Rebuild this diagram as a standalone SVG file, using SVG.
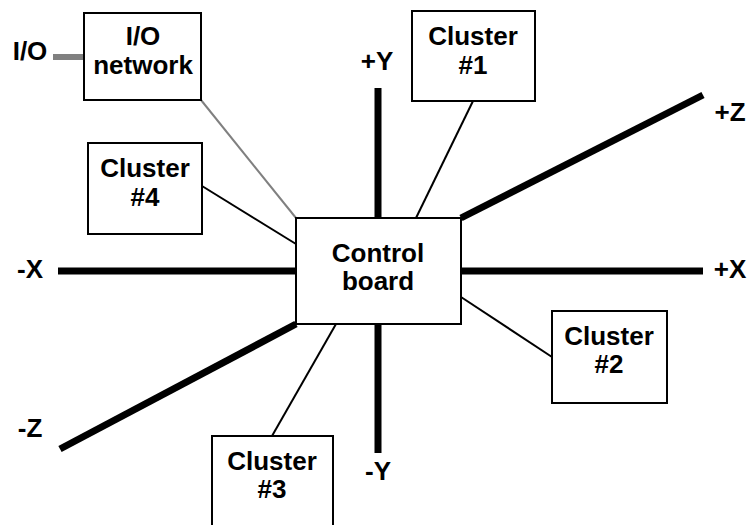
<svg xmlns="http://www.w3.org/2000/svg" width="747" height="525" viewBox="0 0 747 525">
  <style>
    text { font-family: "Liberation Sans", Arial, sans-serif; font-weight: bold; font-size: 26px; fill: #000; text-anchor: middle; }
    .box { fill: #fff; stroke: #000; stroke-width: 2; }
    .axis { stroke: #000; stroke-width: 7; fill: none; }
    .link { stroke: #000; stroke-width: 2; fill: none; }
    .io { stroke: #808080; fill: none; }
  </style>
  <rect width="747" height="525" fill="#fff"/>

  <!-- axes and links -->
  <g id="connectors">
    <line class="axis" x1="58" y1="271" x2="296" y2="271"/>
    <line class="axis" x1="461" y1="271" x2="703" y2="271"/>
    <line class="axis" x1="378" y1="88" x2="378" y2="218"/>
    <line class="axis" x1="378" y1="324" x2="378" y2="453"/>
    <line class="axis" x1="461" y1="218" x2="703" y2="95"/>
    <line class="axis" x1="296" y1="324" x2="60" y2="449"/>
    <line class="link" x1="473" y1="101" x2="416" y2="218"/>
    <line class="link" x1="202" y1="186" x2="296" y2="244"/>
    <line class="link" x1="461" y1="297" x2="552" y2="357"/>
    <line class="link" x1="272" y1="436" x2="336" y2="324"/>
    <line class="io" stroke-width="2" x1="201" y1="100" x2="296" y2="218"/>
    <line class="io" stroke-width="6" x1="53" y1="57" x2="88" y2="57"/>
  </g>

  <!-- axis labels -->
  <g id="axis-labels">
    <text x="30" y="278">-X</text>
    <text x="730" y="278">+X</text>
    <text x="377" y="70">+Y</text>
    <text x="378" y="480">-Y</text>
    <text x="730" y="121">+Z</text>
    <text x="30" y="437">-Z</text>
    <text x="30" y="60">I/O</text>
  </g>

  <g id="control-board">
    <rect class="box" x="296" y="218" width="165" height="106"/>
    <text x="378" y="262">Control</text>
    <text x="378" y="290">board</text>
  </g>

  <g id="io-network">
    <rect class="box" x="84" y="13" width="117" height="87"/>
    <text x="143" y="45">I/O</text>
    <text x="143" y="74">network</text>
  </g>

  <g id="cluster-1">
    <rect class="box" x="412" y="11" width="123" height="90"/>
    <text x="473" y="45">Cluster</text>
    <text x="473" y="74">#1</text>
  </g>

  <g id="cluster-2">
    <rect class="box" x="552" y="311" width="115" height="92"/>
    <text x="609" y="345">Cluster</text>
    <text x="609" y="373">#2</text>
  </g>

  <g id="cluster-3">
    <rect class="box" x="212" y="436" width="121" height="100"/>
    <text x="272" y="470">Cluster</text>
    <text x="272" y="498">#3</text>
  </g>

  <g id="cluster-4">
    <rect class="box" x="88" y="143" width="114" height="91"/>
    <text x="145" y="177">Cluster</text>
    <text x="145" y="206">#4</text>
  </g>
</svg>
